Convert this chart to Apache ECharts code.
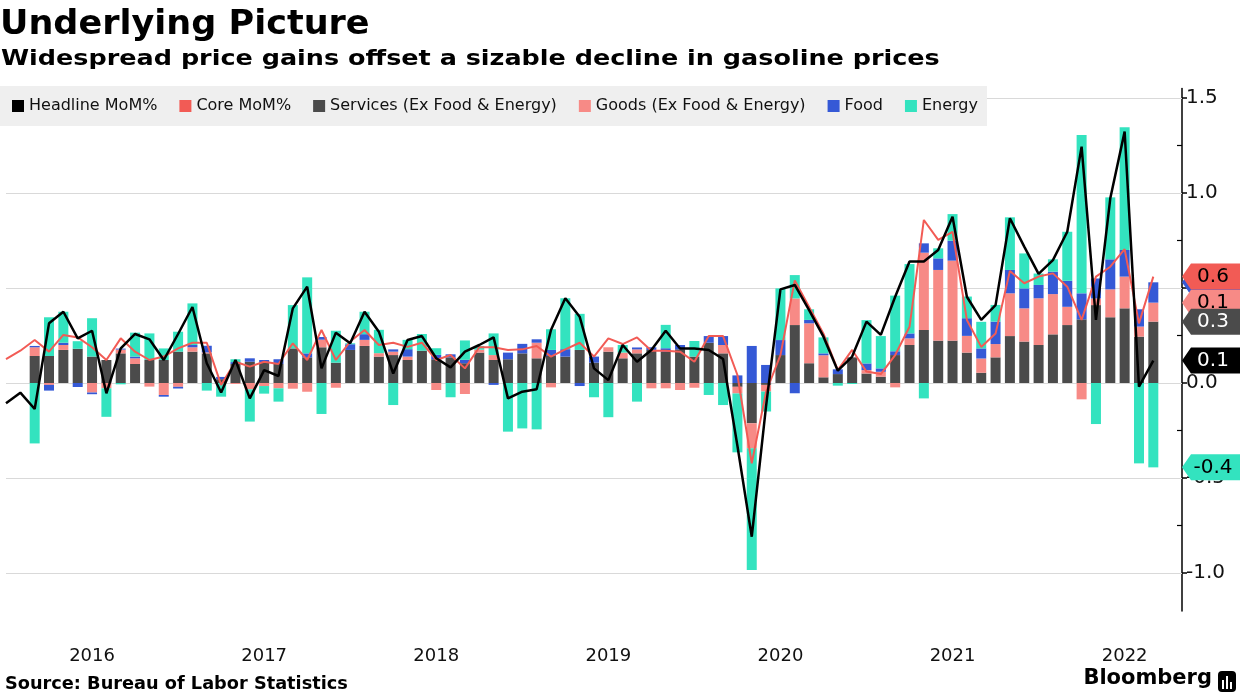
<!DOCTYPE html>
<html><head><meta charset="utf-8">
<script src="https://cdn.jsdelivr.net/npm/echarts@6/dist/echarts.min.js"></script>
<style>html,body{margin:0;padding:0;background:#fff}#c{width:1240px;height:696px}</style>
</head><body><div id="c"></div>
<script>
// Categories: monthly, Dec 2015 .. Oct 2022 (last two months empty)
const firstYear = 2015, firstMonth = 12, monthCount = 83;
const months = [];
for (let k = 0; k < monthCount; k++) {
  const m0 = firstMonth - 1 + k;
  const y = firstYear + Math.floor(m0 / 12);
  const m = (m0 % 12) + 1;
  months.push(y + '-' + (m < 10 ? '0' + m : '' + m));
}
const yearLabelMonth = '06';

const headline = [
 -0.107,-0.051,-0.137,0.314,0.375,0.235,0.275,-0.054,0.182,0.258,
 0.23,0.121,0.258,0.40,0.104,-0.05,0.121,-0.081,0.068,0.037,
 0.393,0.507,0.077,0.265,0.209,0.375,0.27,0.05,0.226,0.247,
 0.13,0.082,0.165,0.2,0.24,-0.081,-0.046,-0.033,0.279,0.446,
 0.349,0.077,0.015,0.2,0.112,0.174,0.275,0.182,0.182,0.174,
 0.126,-0.33,-0.809,-0.12,0.493,0.516,0.384,0.244,0.065,0.139,
 0.323,0.253,0.454,0.639,0.639,0.70,0.875,0.454,0.332,0.41,
 0.867,0.718,0.574,0.647,0.796,1.244,0.332,0.972,1.323,-0.019,
 0.118];
const core = [
 0.126,0.17,0.226,0.165,0.253,0.24,0.188,0.121,0.235,0.165,
 0.121,0.139,0.182,0.212,0.212,-0.01,0.112,0.086,0.112,0.10,
 0.209,0.121,0.279,0.121,0.218,0.279,0.20,0.212,0.19,0.212,
 0.121,0.147,0.077,0.188,0.188,0.174,0.177,0.195,0.139,0.177,
 0.212,0.139,0.235,0.205,0.24,0.17,0.17,0.165,0.112,0.247,
 0.247,0.042,-0.423,-0.046,0.147,0.54,0.40,0.26,0.068,0.174,
 0.06,0.047,0.147,0.296,0.858,0.753,0.796,0.332,0.19,0.26,
 0.59,0.525,0.56,0.577,0.507,0.332,0.56,0.612,0.704,0.314,
 0.56];
const services = [
 null,null,0.142,0.142,0.174,0.18,0.139,0.121,0.156,0.10,
 0.121,0.121,0.165,0.165,0.156,0.02,0.10,0.112,0.107,0.10,
 0.182,0.135,0.188,0.107,0.174,0.195,0.139,0.147,0.121,0.17,
 0.125,0.135,0.104,0.16,0.121,0.125,0.156,0.13,0.142,0.139,
 0.174,0.107,0.165,0.13,0.156,0.174,0.165,0.177,0.139,0.212,
 0.156,-0.02,-0.212,-0.01,0.147,0.305,0.104,0.03,0.047,0.135,
 0.05,0.033,0.147,0.2,0.279,0.223,0.223,0.16,0.054,0.135,
 0.247,0.218,0.2,0.256,0.305,0.335,0.41,0.346,0.393,0.244,
 0.323];
const goods = [
 null,null,0.046,-0.01,0.026,0,-0.05,-0.028,0.02,0.03,
 -0.019,-0.063,-0.02,0.023,0.005,0,-0.005,-0.033,-0.016,-0.028,
 -0.03,-0.046,0.04,-0.025,0,0.032,0.018,0.018,0.018,0,
 -0.037,0,-0.058,0.015,0.026,0,0,0.082,-0.023,0,
 0,0,0.023,0.03,0.021,-0.028,-0.028,-0.037,-0.025,0,
 0.044,-0.035,-0.132,-0.035,0,0.14,0.21,0.116,0,0,
 0.018,0.026,-0.023,0.035,0.407,0.372,0.421,0.088,0.075,0.07,
 0.225,0.175,0.246,0.212,0.096,-0.086,0.035,0.147,0.167,0.053,
 0.1];
const food = [
 null,null,0.007,-0.03,0.012,-0.021,-0.009,0,0.005,0.009,
 0,-0.009,-0.009,0.012,0.035,0.012,0.01,0.018,0.014,0.025,
 0,0.021,0.014,0,0.03,0.03,0,0.012,0.039,0,
 0.023,0.016,0.018,0,-0.01,0.035,0.05,0.018,0.032,0.039,
 -0.016,0.032,0,0,0.01,0.014,0.018,0.023,0,0.035,
 0.047,0.04,0.195,0.095,0.079,-0.054,0.018,0.01,0.025,0,
 0.035,0.018,0.02,0.026,0.049,0.061,0.105,0.093,0.053,0.118,
 0.123,0.105,0.07,0.118,0.137,0.137,0.105,0.158,0.14,0.091,
 0.107];
const energy = [
 null,null,-0.318,0.204,0.163,0.04,0.202,-0.15,-0.007,0.126,
 0.14,0.061,0.105,0.219,-0.04,-0.072,0.015,-0.17,-0.04,-0.07,
 0.228,0.40,-0.163,0.168,0.005,0.118,0.123,-0.116,0.049,0.088,
 0.035,-0.075,0.102,0.02,0.114,-0.256,-0.239,-0.244,0.109,0.268,
 0.19,-0.075,-0.18,0.04,-0.098,0,0.123,0,0.082,-0.063,
 -0.116,-0.31,-0.64,-0.105,0.272,0.123,0.056,0.084,-0.014,-0.005,
 0.228,0.17,0.293,0.365,-0.081,0.053,0.14,0.114,0.14,0.088,
 0.277,0.184,0.06,0.065,0.258,0.833,-0.216,0.326,0.646,-0.423,
 -0.444];

const yLabelValues = [-1, -0.5, 0, 0.5, 1, 1.5];
const yMinorTickValues = [-0.75, -0.25, 0.25, 0.75, 1.25];

const names = ['Headline MoM%', 'Core MoM%', 'Services (Ex Food & Energy)', 'Goods (Ex Food & Energy)', 'Food', 'Energy'];
const colors = {
  headline: '#000000', core: '#f25b55', services: '#4b4b4b',
  goods: '#f78a86', food: '#3559d6', energy: '#33e3bf'
};
const FONT = 'DejaVu Sans';

// stacked (same-sign) end of each bar segment at the last month, for value tags
const last = headline.length - 1;
const stackArrs = [services, goods, food, energy];
function stackEnd(idx) {
  const v = stackArrs[idx][last];
  let s = 0;
  for (let j = 0; j <= idx; j++) {
    const w = stackArrs[j][last];
    if ((w >= 0) === (v >= 0)) s += w;
  }
  return s;
}
const tagCat = months[months.length - 1];
function tag(value, pos, bg, fg, z) {
  return {
    silent: true, z: z, animation: false,
    symbol: 'path://M0,13 L9,0 L62,0 L62,26 L9,26 Z',
    symbolSize: [62, 26], symbolKeepAspect: false,
    symbolOffset: ['50%', 0],
    itemStyle: { color: bg, borderWidth: 0 },
    label: { show: true, position: 'inside', color: fg, fontFamily: FONT, fontSize: 20,
      formatter: function () { return value.toFixed(1); } },
    data: [{ coord: [tagCat, pos], value: value }]
  };
}

const gridLines = {
  silent: true, z: 1, symbol: ['none', 'none'], animation: false,
  label: { show: false },
  lineStyle: { color: '#d9d9d9', type: 'solid', width: 1 },
  emphasis: { disabled: true },
  data: yLabelValues.map(v => ({ yAxis: v }))
};

const chart = echarts.init(document.getElementById('c'), null, { renderer: 'canvas' });
chart.setOption({
  animation: false,
  backgroundColor: '#ffffff',
  title: [
    { text: 'Bloomberg', right: 28, top: 668, padding: 0,
      textStyle: { fontFamily: FONT, fontWeight: 'bold', fontSize: 21, color: '#000' } }
  ],
  graphic: [
    { type: 'text', x: 0, y: 8, scaleX: 1.03, silent: true,
      style: { text: 'Underlying Picture', fontFamily: FONT, fontWeight: 'bold', fontSize: 34, fill: '#000', verticalAlign: 'top' } },
    { type: 'text', x: 1, y: 48, scaleX: 1.158, silent: true,
      style: { text: 'Widespread price gains offset a sizable decline in gasoline prices', fontFamily: FONT, fontWeight: 'bold', fontSize: 22, fill: '#000', verticalAlign: 'top' } },
    { type: 'text', x: 5, y: 675, scaleX: 0.985, silent: true,
      style: { text: 'Source: Bureau of Labor Statistics', fontFamily: FONT, fontWeight: 'bold', fontSize: 18, fill: '#000', verticalAlign: 'top' } },
    { type: 'group', right: 4, top: 671, children: [
      { type: 'rect', shape: { x: 0, y: 0, width: 18, height: 21, r: 4 }, style: { fill: '#000' } },
      { type: 'rect', shape: { x: 4, y: 9, width: 2, height: 9 }, style: { fill: '#fff' } },
      { type: 'rect', shape: { x: 8, y: 5, width: 2, height: 13 }, style: { fill: '#fff' } },
      { type: 'rect', shape: { x: 12, y: 11, width: 2, height: 7 }, style: { fill: '#fff' } }
    ] }
  ],
  legend: {
    left: 0, top: 86, padding: [12, 9, 12, 12], backgroundColor: '#efefef',
    itemWidth: 12, itemHeight: 12, itemGap: 22, icon: 'rect', selectedMode: false,
    textStyle: { fontFamily: FONT, fontSize: 16, color: '#111' },
    data: names
  },
  grid: { left: 6, right: 58, top: 88.5, bottom: 85, containLabel: false, outerBoundsMode: 'none' },
  xAxis: {
    type: 'category', data: months, boundaryGap: false,
    axisLine: { show: false }, axisTick: { show: false }, splitLine: { show: false },
    axisLabel: {
      margin: 36, fontFamily: FONT, fontSize: 18, color: '#111',
      interval: function (i, v) { return v.slice(5) === yearLabelMonth; },
      formatter: function (v) { return v.slice(0, 4); }
    }
  },
  yAxis: [
    {
      type: 'value', position: 'right', min: -1.2, max: 1.55,
      axisLine: { show: true, lineStyle: { color: '#000', width: 1.5 } },
      axisTick: { show: true, length: 5, lineStyle: { color: '#000', width: 1.5 }, customValues: yLabelValues },
      axisLabel: { margin: 4, fontFamily: FONT, fontSize: 20, color: '#111', customValues: yLabelValues,
        formatter: function (v) { return yLabelValues.indexOf(v) >= 0 ? v.toFixed(1) : ''; } },
      splitLine: { show: false }
    },
    {
      type: 'value', position: 'right', min: -1.2, max: 1.55,
      axisLine: { show: false },
      axisTick: { show: true, inside: true, length: 5, lineStyle: { color: '#000', width: 1.2 }, customValues: yMinorTickValues },
      axisLabel: { show: false },
      splitLine: { show: false }
    }
  ],
  series: [
    { name: names[0], type: 'line', data: headline, symbol: 'none', z: 5,
      lineStyle: { color: colors.headline, width: 2.5 }, itemStyle: { color: colors.headline },
      markLine: gridLines,
      markPoint: tag(headline[last], headline[last], colors.headline, '#fff', 13) },
    { name: names[1], type: 'line', data: core, symbol: 'none', z: 4,
      lineStyle: { color: colors.core, width: 2 }, itemStyle: { color: colors.core },
      markPoint: tag(core[last], core[last], colors.core, '#000', 14) },
    { name: names[2], type: 'bar', stack: 'c', data: services, barWidth: 10, z: 2,
      itemStyle: { color: colors.services },
      markPoint: tag(services[last], stackEnd(0), colors.services, '#fff', 12) },
    { name: names[3], type: 'bar', stack: 'c', data: goods, barWidth: 10, z: 2,
      itemStyle: { color: colors.goods },
      markPoint: tag(goods[last], stackEnd(1), colors.goods, '#000', 11) },
    { name: names[4], type: 'bar', stack: 'c', data: food, barWidth: 10, z: 2,
      itemStyle: { color: colors.food },
      markPoint: tag(food[last], stackEnd(2), colors.food, '#fff', 10) },
    { name: names[5], type: 'bar', stack: 'c', data: energy, barWidth: 10, z: 2,
      itemStyle: { color: colors.energy },
      markPoint: tag(energy[last], stackEnd(3), colors.energy, '#000', 10) }
  ]
});
</script>
</body></html>
